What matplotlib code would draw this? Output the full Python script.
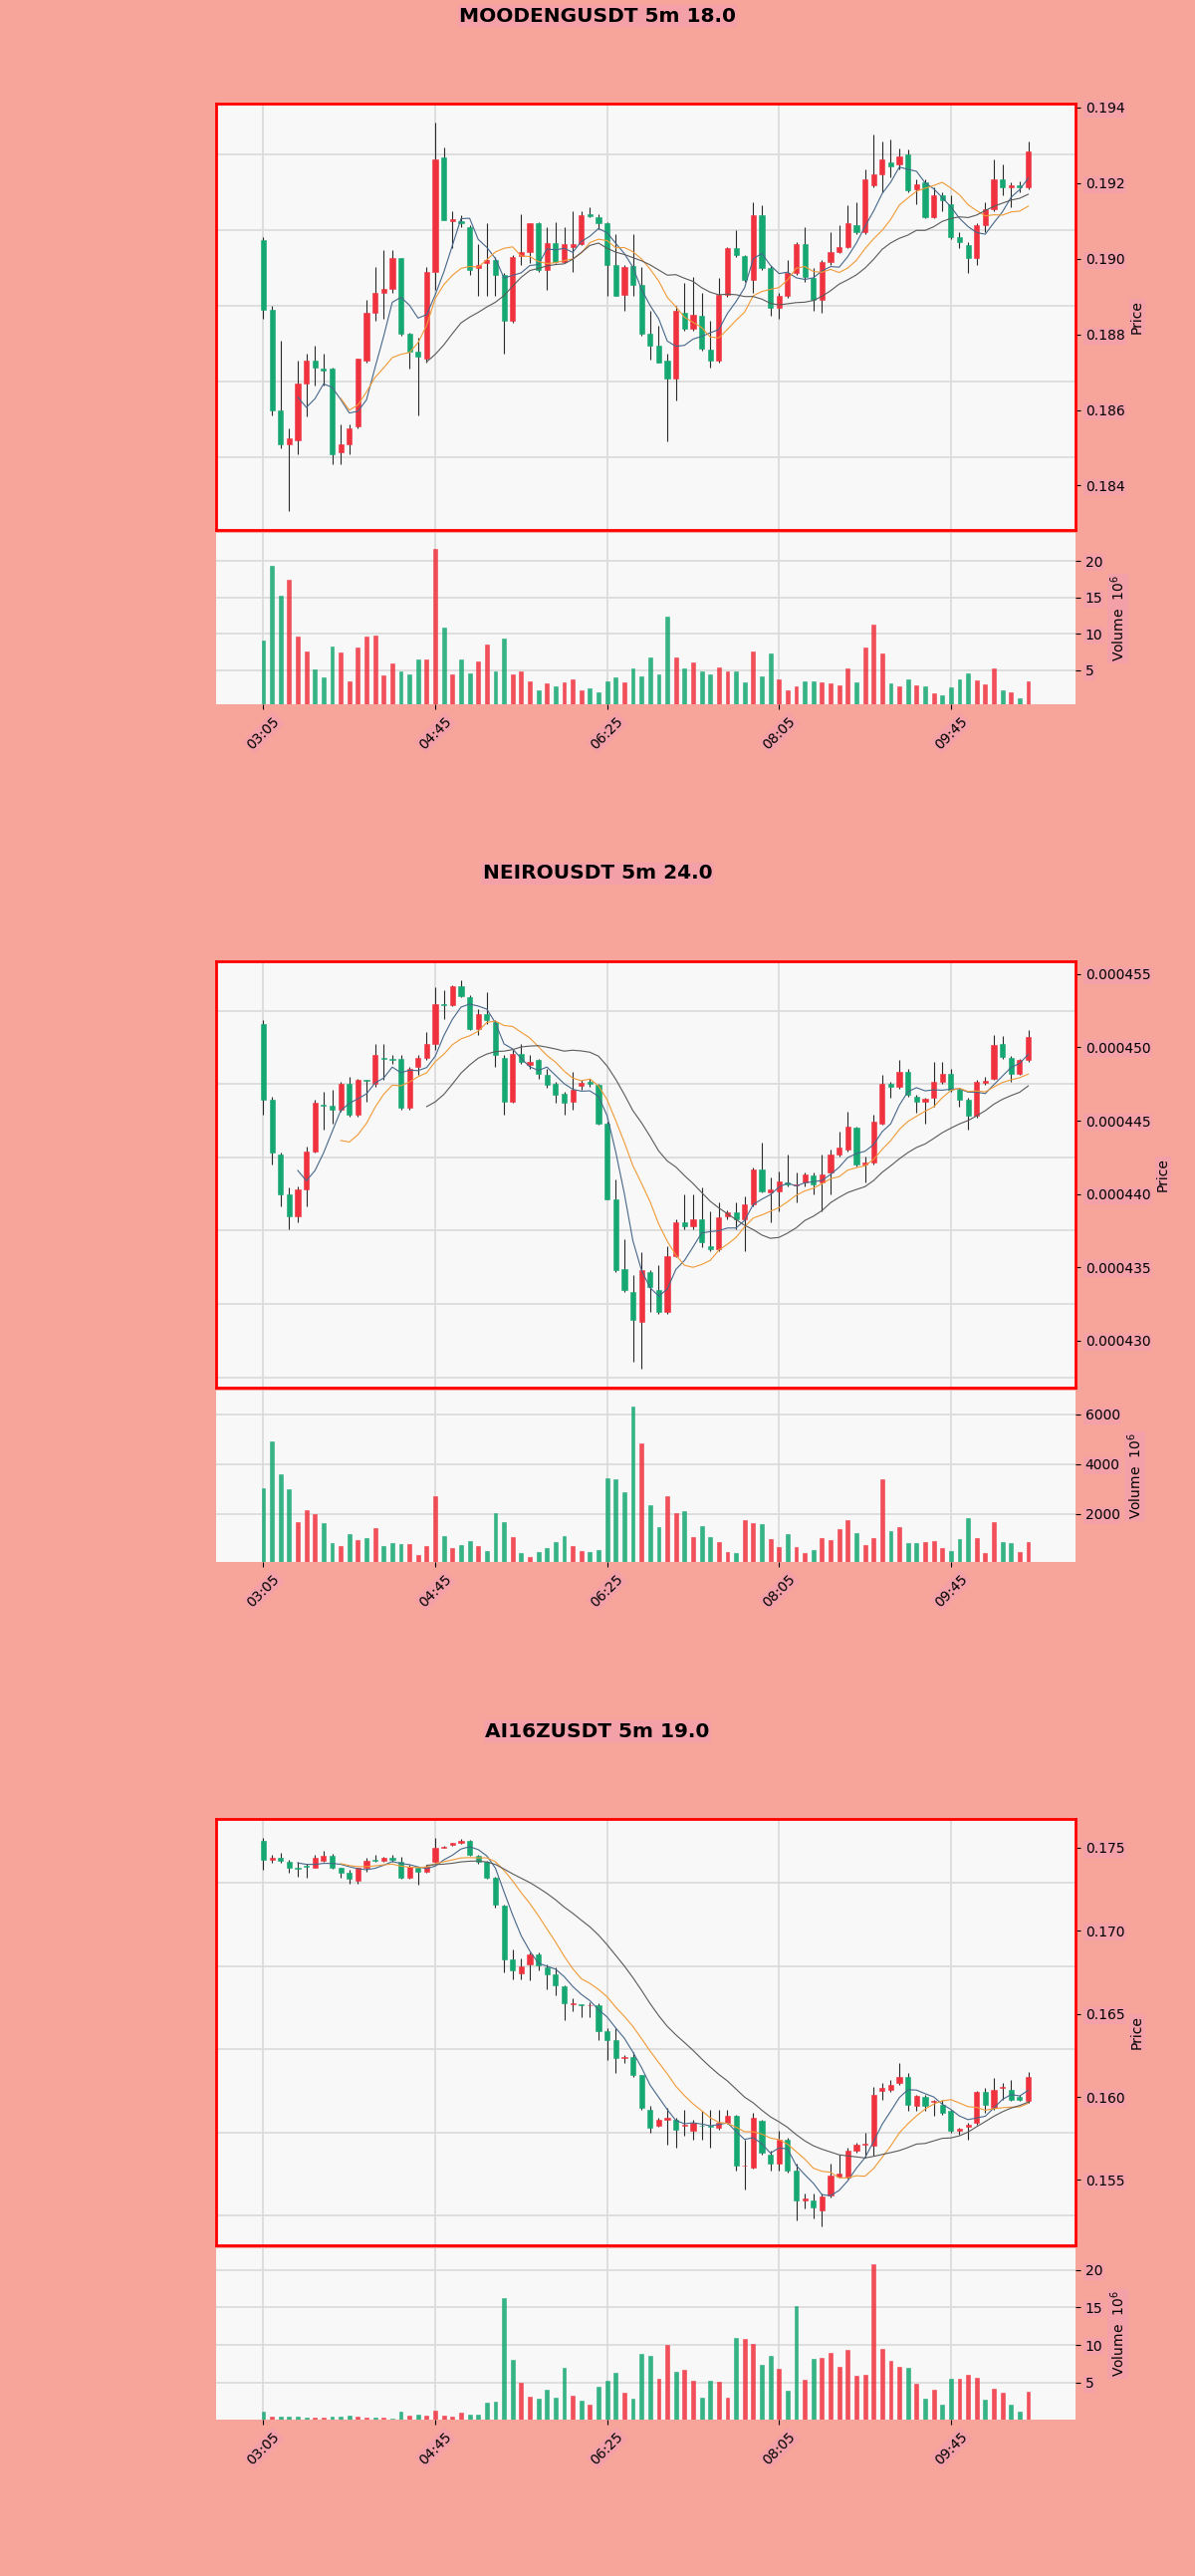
import matplotlib
import numpy as np
import pandas as pd

matplotlib.use("Agg")
import matplotlib.pyplot as plt
from matplotlib.ticker import FormatStrFormatter, MultipleLocator

# ---- data -------------------------------------------------------------
times = pd.date_range("2024-01-01 03:05", periods=90, freq="5min").strftime("%H:%M")

# MOODENGUSDT
mood_open = [0.19049, 0.18866, 0.18600, 0.18508, 0.18521, 0.18670, 0.18731, 0.18709, 0.18709, 0.18487,
             0.18508, 0.18556, 0.18731, 0.18857, 0.18911, 0.18920, 0.19001, 0.18801, 0.18753, 0.18735,
             0.18966, 0.19267, 0.19100, 0.19100, 0.19084, 0.18975, 0.18988, 0.18997, 0.18958, 0.18835,
             0.19007, 0.19019, 0.19093, 0.18971, 0.19042, 0.18992, 0.19032, 0.19040, 0.19117, 0.19110,
             0.19093, 0.18984, 0.18905, 0.18981, 0.18931, 0.18801, 0.18770, 0.18731, 0.18683, 0.18857,
             0.18814, 0.18849, 0.18760, 0.18731, 0.18905, 0.19027, 0.19007, 0.18944, 0.19114, 0.18975,
             0.18870, 0.18901, 0.18962, 0.19040, 0.18949, 0.18892, 0.18992, 0.19019, 0.19032, 0.19088,
             0.19071, 0.19193, 0.19223, 0.19254, 0.19250, 0.19276, 0.19184, 0.19202, 0.19110, 0.19167,
             0.19145, 0.19058, 0.19036, 0.19001, 0.19088, 0.19132, 0.19210, 0.19189, 0.19193, 0.19189]
mood_high = [0.19058, 0.18875, 0.18783, 0.18552, 0.18731, 0.18748, 0.18770, 0.18748, 0.18712, 0.18561,
             0.18561, 0.18735, 0.18892, 0.18979, 0.19023, 0.19023, 0.19001, 0.18805, 0.18792, 0.18979,
             0.19359, 0.19295, 0.19127, 0.19114, 0.19090, 0.19040, 0.19093, 0.19005, 0.18962, 0.19010,
             0.19119, 0.19093, 0.19097, 0.19084, 0.19097, 0.19084, 0.19127, 0.19127, 0.19136, 0.19119,
             0.19097, 0.19066, 0.18984, 0.19066, 0.18979, 0.18862, 0.18822, 0.18748, 0.18875, 0.18936,
             0.18953, 0.18909, 0.18835, 0.18949, 0.19031, 0.19075, 0.19010, 0.19149, 0.19141, 0.18980,
             0.18909, 0.18997, 0.19044, 0.19084, 0.18975, 0.18997, 0.19071, 0.19088, 0.19141, 0.19149,
             0.19237, 0.19328, 0.19311, 0.19315, 0.19293, 0.19289, 0.19210, 0.19210, 0.19189, 0.19176,
             0.19167, 0.19071, 0.19045, 0.19093, 0.19149, 0.19263, 0.19250, 0.19202, 0.19206, 0.19311]
mood_low = [0.18840, 0.18587, 0.18500, 0.18334, 0.18482, 0.18583, 0.18665, 0.18665, 0.18456, 0.18456,
            0.18482, 0.18552, 0.18726, 0.18835, 0.18840, 0.18910, 0.18796, 0.18709, 0.18587, 0.18726,
            0.18918, 0.19103, 0.19027, 0.19083, 0.18958, 0.18901, 0.18901, 0.18901, 0.18748, 0.18830,
            0.18984, 0.18988, 0.18966, 0.18918, 0.18988, 0.18988, 0.18966, 0.19036, 0.19110, 0.19079,
            0.18901, 0.18901, 0.18862, 0.18901, 0.18796, 0.18733, 0.18726, 0.18517, 0.18626, 0.18810,
            0.18810, 0.18757, 0.18713, 0.18726, 0.18900, 0.19005, 0.18940, 0.18909, 0.18971, 0.18848,
            0.18840, 0.18897, 0.18958, 0.18940, 0.18862, 0.18857, 0.18984, 0.19014, 0.19027, 0.19066,
            0.19066, 0.19189, 0.19176, 0.19215, 0.19237, 0.19176, 0.19145, 0.19106, 0.19106, 0.19127,
            0.19053, 0.19027, 0.18962, 0.18984, 0.19071, 0.19127, 0.19167, 0.19136, 0.19176, 0.19184]
mood_close = [0.18866, 0.18600, 0.18508, 0.18526, 0.18670, 0.18731, 0.18713, 0.18705, 0.18482, 0.18508,
              0.18552, 0.18735, 0.18857, 0.18911, 0.18920, 0.19001, 0.18801, 0.18753, 0.18740, 0.18966,
              0.19263, 0.19103, 0.19105, 0.19093, 0.18971, 0.18984, 0.18997, 0.18958, 0.18835, 0.19005,
              0.19019, 0.19093, 0.18971, 0.19042, 0.18992, 0.19040, 0.19040, 0.19114, 0.19112, 0.19093,
              0.18984, 0.18901, 0.18979, 0.18931, 0.18801, 0.18770, 0.18726, 0.18683, 0.18862, 0.18814,
              0.18853, 0.18761, 0.18731, 0.18905, 0.19027, 0.19010, 0.18944, 0.19114, 0.18975, 0.18870,
              0.18901, 0.18962, 0.19040, 0.18953, 0.18892, 0.18992, 0.19019, 0.19032, 0.19093, 0.19071,
              0.19210, 0.19223, 0.19263, 0.19245, 0.19271, 0.19180, 0.19197, 0.19110, 0.19167, 0.19154,
              0.19058, 0.19045, 0.19001, 0.19088, 0.19132, 0.19210, 0.19189, 0.19193, 0.19189, 0.19284]
mood_vol = [9.1, 19.3, 15.3, 17.4, 9.6, 7.6, 5.1, 4.0, 8.3, 7.5,
            3.5, 8.1, 9.6, 9.8, 4.3, 6.0, 4.9, 4.4, 6.5, 6.5,
            21.7, 10.8, 4.5, 6.5, 4.6, 6.2, 8.6, 4.8, 9.4, 4.5,
            4.8, 3.5, 2.2, 3.2, 2.8, 3.4, 3.7, 2.2, 2.5, 2.0,
            3.5, 4.0, 3.4, 5.3, 4.2, 6.8, 4.4, 12.4, 6.8, 5.2,
            6.1, 4.9, 4.5, 5.4, 4.9, 4.8, 3.3, 7.6, 4.2, 7.3,
            3.7, 2.2, 2.8, 3.5, 3.5, 3.4, 3.2, 2.9, 5.2, 3.3,
            8.1, 11.3, 7.3, 3.2, 2.8, 3.7, 2.9, 2.8, 1.8, 1.5,
            2.7, 3.7, 4.6, 3.6, 3.0, 5.2, 2.2, 2.0, 1.1, 3.5]

# NEIROUSDT (prices in 1e-6)
neiro_open = [451.61, 446.42, 442.69, 439.98, 438.51, 440.32, 442.92, 446.08, 446.01, 445.74,
              447.54, 445.40, 447.77, 447.54, 449.25, 449.24, 449.24, 445.85, 448.67, 449.31,
              450.25, 452.96, 452.87, 454.16, 453.41, 451.27, 452.29, 451.72, 449.31, 446.30,
              449.58, 448.79, 449.17, 448.11, 447.50, 446.82, 446.30, 447.36, 447.66, 447.43,
              444.83, 439.64, 434.90, 433.32, 431.29, 434.68, 433.43, 431.96, 435.80, 438.11,
              437.83, 438.29, 436.48, 436.25, 438.51, 438.74, 438.29, 439.30, 441.67, 440.14,
              440.21, 440.82, 440.59, 440.77, 441.26, 440.77, 441.45, 442.69, 443.03, 444.50,
              442.01, 442.12, 444.83, 447.54, 447.32, 448.33, 446.64, 446.30, 446.53, 447.66,
              448.22, 447.09, 446.42, 445.33, 447.59, 447.88, 450.21, 449.31, 448.22, 449.13]
neiro_high = [451.83, 446.64, 442.80, 440.43, 440.54, 443.25, 446.42, 446.98, 447.09, 447.66,
              447.99, 447.88, 447.80, 450.25, 450.25, 449.46, 449.46, 448.67, 449.46, 451.04,
              454.09, 453.87, 454.20, 454.54, 453.55, 452.62, 453.75, 451.83, 449.46, 449.80,
              450.25, 449.46, 449.24, 448.56, 447.66, 446.98, 448.33, 447.77, 447.88, 447.54,
              444.95, 441.00, 436.93, 434.45, 436.03, 434.79, 435.13, 436.48, 438.29, 439.98,
              439.98, 440.43, 438.85, 439.42, 438.90, 439.42, 439.87, 441.78, 443.48, 441.11,
              441.56, 442.69, 441.45, 441.45, 441.45, 442.69, 443.03, 444.27, 445.62, 444.61,
              442.58, 445.40, 448.11, 447.66, 449.13, 448.56, 446.75, 446.53, 449.01, 449.01,
              448.56, 447.20, 446.53, 447.77, 447.99, 450.82, 450.75, 449.42, 449.24, 451.16]
neiro_low = [445.40, 442.01, 439.19, 437.61, 438.06, 439.19, 442.80, 444.38, 444.83, 445.60,
             445.30, 445.30, 446.30, 447.32, 447.77, 448.90, 445.74, 445.74, 448.11, 449.13,
             449.80, 451.95, 452.80, 453.40, 451.20, 450.82, 451.60, 448.67, 445.40, 446.19,
             448.90, 448.56, 447.88, 447.21, 446.19, 445.40, 445.74, 447.09, 447.32, 444.72,
             439.64, 434.68, 433.32, 428.58, 428.13, 431.96, 431.85, 431.85, 435.70, 437.61,
             437.61, 436.37, 436.14, 436.14, 438.29, 437.61, 436.14, 439.19, 440.10, 438.06,
             438.85, 440.55, 439.42, 440.55, 439.98, 438.85, 439.98, 442.58, 442.92, 441.90,
             440.77, 442.01, 444.72, 446.53, 447.20, 446.64, 445.51, 444.83, 445.96, 447.54,
             446.98, 445.96, 444.38, 445.22, 447.43, 447.77, 449.24, 447.66, 448.11, 449.01]
neiro_close = [446.42, 442.80, 439.98, 438.51, 440.32, 442.92, 446.23, 446.01, 445.74, 447.54,
               445.40, 447.77, 447.70, 449.46, 449.20, 449.13, 445.85, 448.56, 449.31, 450.25,
               452.96, 452.87, 454.16, 453.46, 451.27, 452.29, 451.83, 449.46, 446.30, 449.58,
               449.01, 449.01, 448.22, 447.43, 446.75, 446.19, 447.09, 447.59, 447.54, 444.83,
               439.64, 434.79, 433.43, 431.40, 434.79, 433.66, 431.96, 435.80, 438.11, 437.83,
               438.29, 436.71, 436.25, 438.40, 438.78, 438.29, 439.30, 441.67, 440.21, 440.32,
               440.88, 440.66, 440.66, 441.33, 440.66, 441.33, 442.69, 443.14, 444.61, 442.01,
               442.12, 444.95, 447.54, 447.32, 448.33, 446.75, 446.30, 446.46, 447.66, 448.22,
               447.09, 446.42, 445.33, 447.66, 447.72, 450.14, 449.35, 448.22, 449.13, 450.70]
neiro_vol = [3027, 4933, 3587, 2987, 1667, 2160, 2000, 1627, 827, 733,
             1200, 960, 1027, 1427, 720, 853, 800, 800, 360, 720,
             2720, 1120, 627, 760, 933, 733, 520, 2027, 1667, 1093,
             427, 267, 480, 627, 867, 1133, 733, 520, 467, 560,
             3440, 3400, 2893, 6320, 4853, 2360, 1493, 2720, 2053, 2120,
             1093, 1520, 1093, 880, 493, 427, 1760, 1653, 1600, 1000,
             667, 1200, 667, 453, 560, 1053, 960, 1387, 1760, 1253,
             760, 1053, 3387, 1333, 1467, 827, 827, 867, 920, 627,
             533, 1000, 1827, 1027, 427, 1693, 867, 827, 493, 867]

# AI16ZUSDT (prices in 1e-3)
ai_open = [175.42, 174.27, 174.36, 174.17, 173.81, 173.93, 173.81, 174.21, 174.52, 173.77,
           173.47, 173.01, 173.77, 174.27, 174.21, 174.37, 174.17, 173.17, 173.81, 173.53,
           174.13, 175.00, 175.16, 175.28, 175.40, 174.52, 174.13, 173.17, 171.54, 168.30,
           167.44, 168.00, 168.59, 167.80, 167.40, 166.64, 165.57, 165.55, 165.49, 165.51,
           163.98, 163.42, 162.37, 162.39, 161.33, 159.24, 158.29, 158.64, 158.60, 158.25,
           157.95, 158.27, 158.25, 158.15, 158.45, 158.84, 155.84, 155.76, 158.54, 156.55,
           155.96, 157.45, 155.56, 153.77, 153.77, 153.17, 154.07, 155.22, 155.16, 156.75,
           157.11, 157.05, 160.34, 160.43, 160.83, 161.23, 159.44, 160.00, 159.70, 159.54,
           159.14, 157.95, 158.21, 158.45, 160.28, 159.34, 160.55, 160.44, 159.99, 159.74]
ai_high = [175.56, 174.56, 174.66, 174.27, 174.17, 174.00, 174.56, 174.80, 174.60, 173.81,
           173.67, 173.81, 174.37, 174.56, 174.46, 174.56, 174.46, 173.97, 173.87, 173.97,
           175.56, 175.10, 175.30, 175.52, 175.46, 174.56, 174.21, 173.27, 171.58, 168.89,
           168.36, 168.69, 168.69, 168.00, 167.80, 166.70, 165.91, 165.60, 165.70, 165.61,
           164.12, 164.12, 162.53, 162.72, 161.33, 159.44, 158.74, 159.34, 158.74, 159.24,
           158.64, 159.14, 159.24, 159.24, 159.24, 158.94, 157.45, 159.04, 158.64, 156.75,
           157.95, 157.55, 155.96, 154.17, 154.17, 154.17, 155.96, 156.55, 156.95, 157.25,
           157.85, 160.63, 160.83, 161.03, 162.03, 161.43, 160.14, 160.14, 159.84, 159.84,
           159.24, 158.15, 158.45, 160.34, 160.54, 161.13, 160.83, 161.03, 160.14, 161.53]
ai_low = [173.67, 174.07, 174.07, 173.47, 173.27, 173.17, 173.77, 174.17, 173.73, 173.17,
          172.81, 172.81, 173.57, 174.13, 174.17, 174.17, 173.13, 173.13, 172.77, 173.47,
          174.07, 174.96, 175.12, 175.20, 174.52, 174.01, 173.13, 171.38, 167.50, 167.10,
          167.10, 167.00, 167.60, 166.50, 166.11, 164.61, 165.17, 164.81, 164.81, 163.42,
          162.23, 161.43, 162.03, 161.23, 159.24, 157.85, 158.20, 157.15, 156.95, 157.65,
          157.45, 157.45, 156.95, 158.05, 158.40, 155.56, 154.46, 155.66, 156.55, 155.56,
          155.56, 155.46, 152.57, 153.27, 152.67, 152.24, 153.97, 155.16, 155.06, 156.65,
          156.35, 156.45, 159.84, 160.33, 160.73, 159.14, 159.14, 159.14, 158.84, 158.94,
          157.85, 157.75, 157.45, 158.35, 159.04, 159.24, 159.84, 159.74, 159.74, 159.64]
ai_close = [174.27, 174.40, 174.21, 173.77, 173.75, 173.85, 174.37, 174.52, 173.77, 173.47,
            173.13, 173.77, 174.21, 174.21, 174.37, 174.27, 173.17, 173.87, 173.53, 173.87,
            175.00, 175.06, 175.26, 175.40, 174.56, 174.13, 173.17, 171.58, 168.30, 167.60,
            167.84, 168.59, 167.90, 167.40, 166.70, 165.61, 165.63, 165.51, 165.51, 163.98,
            163.42, 162.33, 162.43, 161.33, 159.34, 158.15, 158.64, 158.74, 158.05, 158.35,
            158.45, 158.25, 158.21, 158.45, 158.84, 155.86, 155.86, 158.74, 156.66, 155.96,
            157.45, 155.56, 153.77, 153.87, 153.37, 154.03, 155.26, 155.36, 156.75, 157.15,
            157.17, 160.14, 160.53, 160.73, 161.23, 159.54, 160.04, 159.44, 159.76, 159.04,
            157.95, 158.07, 158.35, 160.28, 159.54, 160.44, 160.63, 159.84, 159.84, 161.23]
ai_vol = [1.2, 0.5, 0.5, 0.5, 0.45, 0.4, 0.3, 0.4, 0.45, 0.5,
          0.55, 0.5, 0.4, 0.35, 0.3, 0.25, 1.2, 0.6, 0.8, 0.65,
          1.25, 0.6, 0.45, 1.0, 0.8, 0.8, 2.3, 2.4, 16.2, 8.0,
          5.0, 3.1, 2.9, 4.0, 3.0, 7.0, 3.2, 2.65, 2.0, 4.5,
          5.3, 6.3, 3.6, 2.9, 8.85, 8.5, 5.5, 10.0, 6.4, 6.7,
          5.2, 3.0, 5.2, 5.1, 3.0, 11.0, 10.8, 10.2, 7.4, 8.5,
          6.8, 3.9, 15.2, 5.4, 8.1, 8.3, 9.0, 7.1, 9.3, 5.9,
          6.1, 20.8, 9.5, 7.9, 7.1, 7.0, 4.9, 2.9, 4.0, 2.0,
          5.5, 5.5, 6.0, 5.7, 2.7, 4.2, 3.7, 2.0, 1.1, 3.8]

# ---- style ------------------------------------------------------------
W, H = 1200, 2586
FIG_BG = "#F7A49A"
AX_BG = "#F8F8F8"
LABEL_BOX = "#F4A0A9"
UP = "#F0323F"
DOWN = "#15A872"
WICK = "#2a2a2a"
MA_COLORS = {5: "#46678a", 10: "#F09A36", 20: "#5a5a5a"}
GRID = dict(color="#dcdcdc", linewidth=1.3)


def draw_chart(fig, dy, title, o, h, l, c, v, scale, fmt, ystep, grid_off):
    o, h, l, c = (np.asarray(a) * scale for a in (o, h, l, c))
    v = np.asarray(v)
    x = np.arange(len(o))
    up = c >= o
    colors = np.where(up, UP, DOWN)

    left, width = 217 / W, 863 / W
    ax = fig.add_axes([left, 1 - (532 + dy) / H, width, 428 / H])
    vax = fig.add_axes([left, 1 - (707 + dy) / H, width, 172 / H], sharex=ax)

    fig.text(0.5, 1 - (16 + dy) / H, title, ha="center", va="center",
             fontsize=14.5, fontweight="bold",
             bbox=dict(facecolor=LABEL_BOX, edgecolor="none", pad=1))

    # candles
    ax.vlines(x, l, h, color=WICK, linewidth=0.8, zorder=2)
    ax.bar(x, c - o, bottom=o, width=0.6, color=colors, edgecolor=colors,
           linewidth=0.4, zorder=3)
    close = pd.Series(c)
    for n, col in MA_COLORS.items():
        ax.plot(x, close.rolling(n).mean(), color=col, linewidth=0.8, zorder=4)

    rng = h.max() - l.min()
    ax.set_ylim(l.min() - 0.05 * rng, h.max() + 0.05 * rng)
    ax.set_xlim(-5.5, len(o) + 4.5)
    ax.set_facecolor(AX_BG)
    for sp in ax.spines.values():
        sp.set_color("red")
        sp.set_linewidth(2)
    ax.yaxis.tick_right()
    ax.yaxis.set_label_position("right")
    ax.yaxis.set_major_locator(MultipleLocator(ystep))
    ax.yaxis.set_major_formatter(FormatStrFormatter(fmt))
    ax.yaxis.set_minor_locator(MultipleLocator(ystep, offset=grid_off))
    ax.tick_params(axis="y", which="minor", length=0)
    ax.tick_params(axis="x", which="both", length=0, labelbottom=False)
    ax.set_ylabel("Price", fontsize=10)
    ax.grid(True, axis="y", which="minor", **GRID)
    ax.grid(True, axis="x", which="major", **GRID)
    ax.set_axisbelow(True)

    # volume
    vax.bar(x, v, width=0.45, color=colors, edgecolor=colors, linewidth=0.4,
            alpha=0.85, zorder=3)
    vax.set_ylim(0.3 * v.min(), 1.1 * v.max())
    vax.set_facecolor(AX_BG)
    for sp in vax.spines.values():
        sp.set_visible(False)
    vax.yaxis.tick_right()
    vax.yaxis.set_label_position("right")
    vax.set_ylabel("Volume  $10^{6}$", fontsize=10)
    vax.set_xticks(x[::20])
    vax.set_xticklabels(times[::20], rotation=45, ha="center")
    vax.grid(True, **GRID)
    vax.set_axisbelow(True)
    return ax, vax


fig = plt.figure(figsize=(W / 100, H / 100), dpi=100, facecolor=FIG_BG)

charts = [
    ("MOODENGUSDT 5m 18.0", mood_open, mood_high, mood_low, mood_close, mood_vol,
     1.0, "%.3f", 0.002, 0.00075),
    ("NEIROUSDT 5m 24.0", neiro_open, neiro_high, neiro_low, neiro_close, neiro_vol,
     1e-6, "%.6f", 5e-6, 2.5e-6),
    ("AI16ZUSDT 5m 19.0", ai_open, ai_high, ai_low, ai_close, ai_vol,
     1e-3, "%.3f", 0.005, 0.00287),
]

axes = []
for k, (title, o, h, l, c, v, scale, fmt, step, off) in enumerate(charts):
    axes.extend(draw_chart(fig, k * 861, title, o, h, l, c, v, scale, fmt, step, off))

fig.canvas.draw()
for a in axes:
    for t in a.get_yticklabels() + a.get_xticklabels() + [a.yaxis.label]:
        if t.get_text():
            t.set_bbox(dict(facecolor=LABEL_BOX, edgecolor="none", pad=1))

fig.savefig("out.png", dpi=100, facecolor=FIG_BG)
plt.close(fig)
